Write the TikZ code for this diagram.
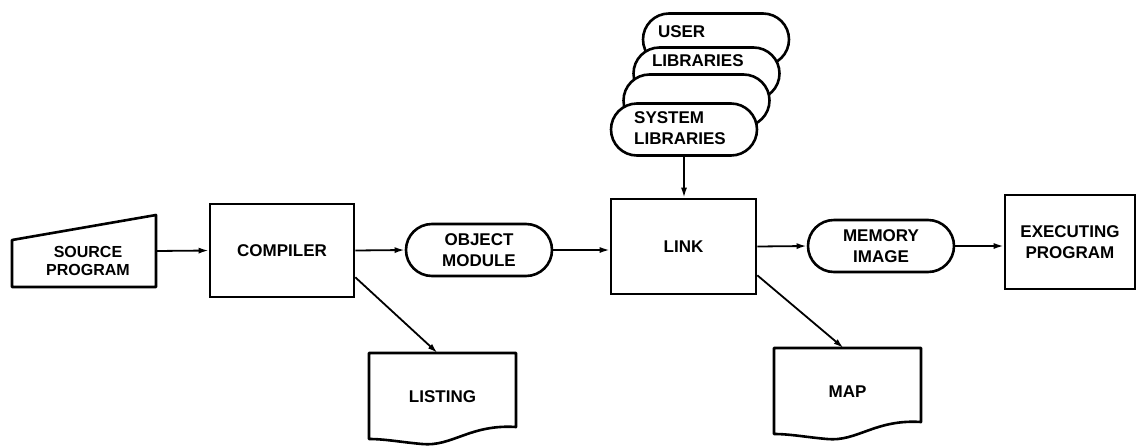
\documentclass[tikz,border=0pt]{standalone}
\usepackage{fontspec}
\setmainfont{Liberation Sans}
\usetikzlibrary{shapes.misc,arrows.meta,calc}
\newcommand{\lbl}{\fontsize{17}{21}\selectfont\bfseries}
\newcommand{\lbls}{\fontsize{16}{18}\selectfont\bfseries}
\begin{document}
\begin{tikzpicture}[x=1pt,y=-1pt,
  box/.style={draw,line width=2.6pt,rectangle,align=center,font=\lbl,inner sep=0pt},
  pill/.style={draw,line width=2.6pt,rounded rectangle,minimum width=146pt,minimum height=52pt,align=center,font=\lbl,inner sep=0pt},
  outline/.style={line width=2.6pt,line join=round},
  conn/.style={line width=1.8pt,-{Latex[length=10pt,width=6pt]}},
  txt/.style={align=center,font=\lbl,inner sep=0pt,outer sep=0pt}]
\useasboundingbox[fill=white] (0,0) rectangle (1138,445);

% source program (manual input shape)
\draw[outline] (12,240) -- (156,215) -- (156,287) -- (12,287) -- cycle;
\node[txt,minimum width=144pt,minimum height=72pt] (src) at (84,251) {};
\node[txt,font=\lbls] (srclbl) at (88,261) {SOURCE\\PROGRAM};

% main boxes
\node[box,minimum width=144pt,minimum height=93pt] (comp) at (282,250.5) {COMPILER};
\node[pill] (obj) at (479,250) {OBJECT\\MODULE};
\node[box,minimum width=145pt,minimum height=95pt] (link) at (683.5,246.5) {LINK};
\node[pill] (mem) at (881,246) {MEMORY\\IMAGE};
\node[box,minimum width=130pt,minimum height=94pt] (exe) at (1070,242) {EXECUTING\\PROGRAM};

% library stack
\node[pill,fill=white] (user) at (716,39.5) {};
\node[txt,anchor=west] (userlbl) at (658,32) {USER};
\node[pill,fill=white] (libs) at (706.5,73.5) {};
\node[txt,anchor=west] (libslbl) at (652,61) {LIBRARIES};
\node[pill,fill=white] (blank) at (696.5,100.5) {};
\node[pill,fill=white] (sys) at (684,129.5) {};
\node[txt,align=left] (syslbl) at (680,128) {SYSTEM\\LIBRARIES};

% documents
\draw[outline] (369,353) -- (516,353) -- (516,427) .. controls (470,424) and (452,447) .. (422,444) .. controls (400,442) and (385,439) .. (369,439) -- cycle;
\node[txt,minimum width=147pt,minimum height=87pt] (lst) at (442.5,396.5) {LISTING};
\begin{scope}[shift={(405,-5)}]
\draw[outline] (369,353) -- (516,353) -- (516,427) .. controls (470,424) and (452,447) .. (422,444) .. controls (400,442) and (385,439) .. (369,439) -- cycle;
\end{scope}
\node[txt,minimum width=147pt,minimum height=87pt] (map) at (847.5,391.5) {MAP};

% connectors
\draw[conn] (src.east) -- (comp.west);
\draw[conn] (comp.east) -- (obj.west);
\draw[conn] (obj.east) -- (obj.east -| link.west);
\draw[conn] (sys.south) -- (sys.south |- link.north);
\draw[conn] (link.east) -- (mem.west);
\draw[conn] (mem.east) -- (mem.east -| exe.west);
\draw[conn] ($(comp.south east)+(0,-21)$) -- ($(lst.north)+(-5,0)$);
\draw[conn] ($(link.south east)+(0,-20)$) -- ($(map.north)+(-4,0)$);
\end{tikzpicture}
\end{document}
